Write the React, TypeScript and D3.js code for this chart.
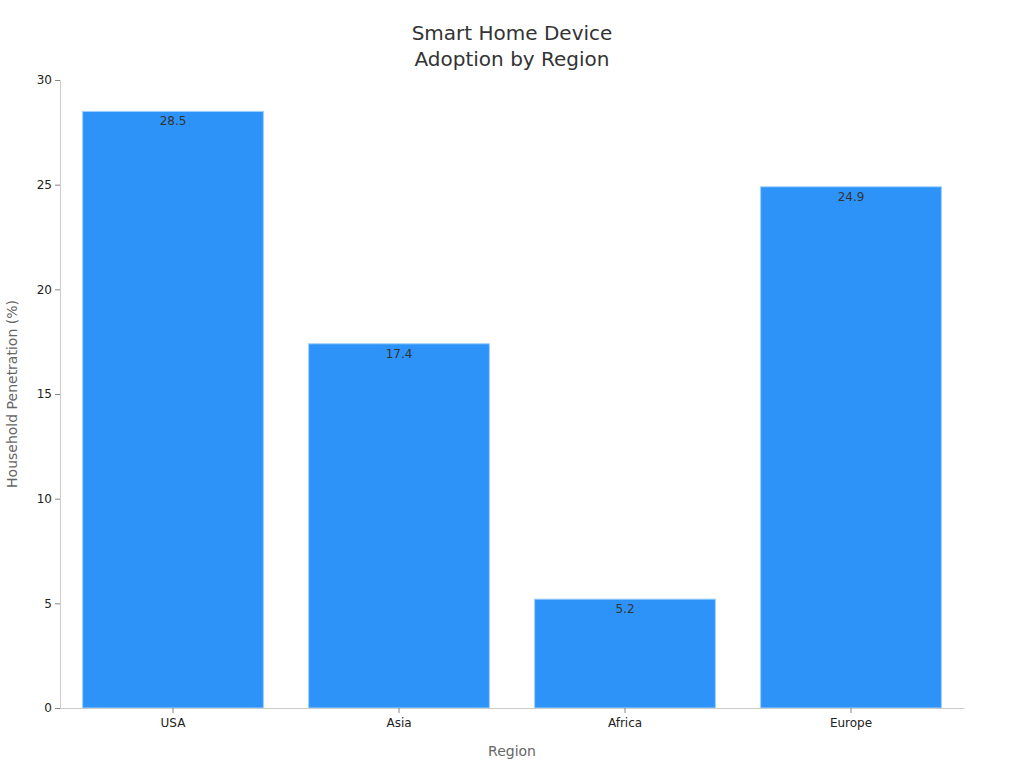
import * as d3 from "d3";
import { useEffect, useRef } from "react";

const WIDTH = 1024;
const HEIGHT = 768;
const MARGIN = { top: 80, right: 60, bottom: 60, left: 60 };
const REGIONS = ["USA", "Asia", "Africa", "Europe"];
const PENETRATION = [28.5, 17.4, 5.2, 24.9];
const Y_TICKS = [0, 5, 10, 15, 20, 25, 30];
const FONT = "DejaVu Sans, sans-serif";

export default function App() {
  const svgRef = useRef<SVGSVGElement>(null);

  useEffect(() => {
    if (!svgRef.current) return;
    const svg = d3.select(svgRef.current);
    svg.selectAll("*").remove();

    const x = d3
      .scaleBand()
      .domain(REGIONS)
      .range([MARGIN.left, WIDTH - MARGIN.right])
      .paddingInner(0.2)
      .paddingOuter(0.1);

    const y = d3
      .scaleLinear()
      .domain([0, 30])
      .range([HEIGHT - MARGIN.bottom, MARGIN.top]);

    // Título
    svg
      .append("text")
      .attr("x", WIDTH / 2)
      .attr("y", 40)
      .attr("text-anchor", "middle")
      .attr("font-family", FONT)
      .attr("font-size", 20)
      .attr("fill", "#333")
      .selectAll("tspan")
      .data(["Smart Home Device", "Adoption by Region"])
      .enter()
      .append("tspan")
      .attr("x", WIDTH / 2)
      .attr("dy", (_, i) => (i === 0 ? 0 : 26))
      .text((d) => d);

    // Barras
    const data = REGIONS.map((r, i) => ({ region: r, value: PENETRATION[i] }));
    svg
      .append("g")
      .selectAll("rect")
      .data(data)
      .enter()
      .append("rect")
      .attr("x", (d) => x(d.region)!)
      .attr("y", (d) => y(d.value))
      .attr("width", x.bandwidth())
      .attr("height", (d) => y(0) - y(d.value))
      .attr("fill", "#2e93f9")
      .attr("stroke", "#9fd0ff")
      .attr("stroke-width", 1);

    // Etiquetas de valor
    svg
      .append("g")
      .selectAll("text")
      .data(data)
      .enter()
      .append("text")
      .attr("x", (d) => x(d.region)! + x.bandwidth() / 2)
      .attr("y", (d) => y(d.value) + 14)
      .attr("text-anchor", "middle")
      .attr("font-family", FONT)
      .attr("font-size", 12)
      .attr("fill", "#333")
      .text((d) => d.value.toFixed(1));

    // Eje Y
    const yAxis = svg
      .append("g")
      .attr("transform", `translate(${MARGIN.left}, 0)`)
      .call(d3.axisLeft(y).tickValues(Y_TICKS).tickSize(5).tickPadding(3));
    yAxis.select(".domain").attr("stroke", "#ccc");
    yAxis.selectAll(".tick line").attr("stroke", "#888");
    yAxis
      .selectAll(".tick text")
      .attr("font-family", FONT)
      .attr("font-size", 12)
      .attr("fill", "#222");

    // Eje X
    const xAxis = svg
      .append("g")
      .attr("transform", `translate(0, ${HEIGHT - MARGIN.bottom})`)
      .call(d3.axisBottom(x).tickSize(5).tickSizeOuter(0).tickPadding(5));
    xAxis.select(".domain").attr("stroke", "#ccc");
    xAxis.selectAll(".tick line").attr("stroke", "#888");
    xAxis
      .selectAll(".tick text")
      .attr("font-family", FONT)
      .attr("font-size", 12)
      .attr("fill", "#222");

    // Títulos de ejes
    svg
      .append("text")
      .attr("x", (MARGIN.left + WIDTH - MARGIN.right) / 2)
      .attr("y", 756)
      .attr("text-anchor", "middle")
      .attr("font-family", FONT)
      .attr("font-size", 14)
      .attr("fill", "#666")
      .text("Region");

    svg
      .append("text")
      .attr(
        "transform",
        `translate(17, ${(MARGIN.top + HEIGHT - MARGIN.bottom) / 2}) rotate(-90)`
      )
      .attr("text-anchor", "middle")
      .attr("font-family", FONT)
      .attr("font-size", 14)
      .attr("fill", "#666")
      .text("Household Penetration (%)");
  }, []);

  return (
    <svg
      ref={svgRef}
      width={WIDTH}
      height={HEIGHT}
      style={{ position: "absolute", left: 0, top: 0, background: "#fff" }}
    ></svg>
  );
}
